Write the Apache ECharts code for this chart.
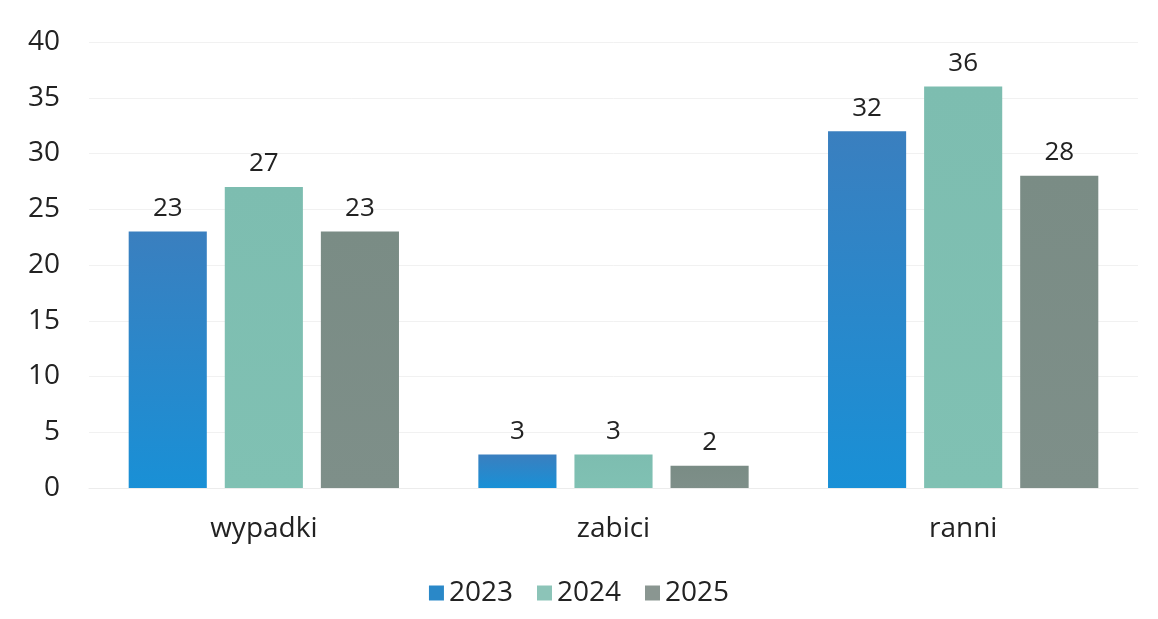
<!DOCTYPE html>
<html><head><meta charset="utf-8">
<script src="https://cdn.jsdelivr.net/npm/echarts@6/dist/echarts.min.js"></script>
<style>html,body{margin:0;padding:0;background:#fff}#c{width:1158px;height:619px}</style>
</head><body><div id="c"></div>
<script>
const categories = ['wypadki', 'zabici', 'ranni'];
const years = ['2023', '2024', '2025'];
const values2023 = [23, 3, 32];
const values2024 = [27, 3, 36];
const values2025 = [23, 2, 28];
const yTicks = [0, 5, 10, 15, 20, 25, 30, 35, 40];

const font = '"Open Sans", "Noto Sans", sans-serif';
const colors = [
  new echarts.graphic.LinearGradient(0,0,0,1,[{offset:0,color:'#3a7fbf'},{offset:1,color:'#1990d6'}]),
  new echarts.graphic.LinearGradient(0,0,0,1,[{offset:0,color:'#7dbdb0'},{offset:1,color:'#80c1b3'}]),
  new echarts.graphic.LinearGradient(0,0,0,1,[{offset:0,color:'#7a8c85'},{offset:1,color:'#7e8f89'}])
];
const legendColors = ['#2a88c8', '#8cc4b8', '#8a9691'];
const seriesData = [values2023, values2024, values2025];

const chart = echarts.init(document.getElementById('c'));
chart.setOption({
  animation: false,
  backgroundColor: '#fff',
  grid: { left: 89, right: 20, top: 42, bottom: 131 },
  legend: {
    bottom: 7, left: 'center',
    itemWidth: 15, itemHeight: 15, itemGap: 24,
    icon: 'rect',
    textStyle: { fontFamily: font, fontSize: 28, color: '#222' },
    data: years.map((y,i)=>({name:y, itemStyle:{color:legendColors[i]}}))
  },
  xAxis: {
    type: 'category', data: categories,
    axisLine: { lineStyle: { color: '#ececec' } },
    axisTick: { show: false },
    axisLabel: { fontFamily: font, fontSize: 28, color: '#222', margin: 27 }
  },
  yAxis: {
    type: 'value', min: yTicks[0], max: yTicks[yTicks.length-1], interval: 5,
    axisLine: { show: false }, axisTick: { show: false },
    splitLine: { lineStyle: { color: '#f1f1f1' } },
    axisLabel: { fontFamily: font, fontSize: 28, color: '#222', margin: 29 }
  },
  series: years.map((y,i)=>({
    name: y, type: 'bar', data: seriesData[i],
    barGap: '23%', barCategoryGap: '22.7%',
    itemStyle: { color: colors[i] },
    label: { show: true, position: 'top', distance: 10, fontFamily: font, fontSize: 26, color: '#222' }
  }))
});
</script></body></html>
